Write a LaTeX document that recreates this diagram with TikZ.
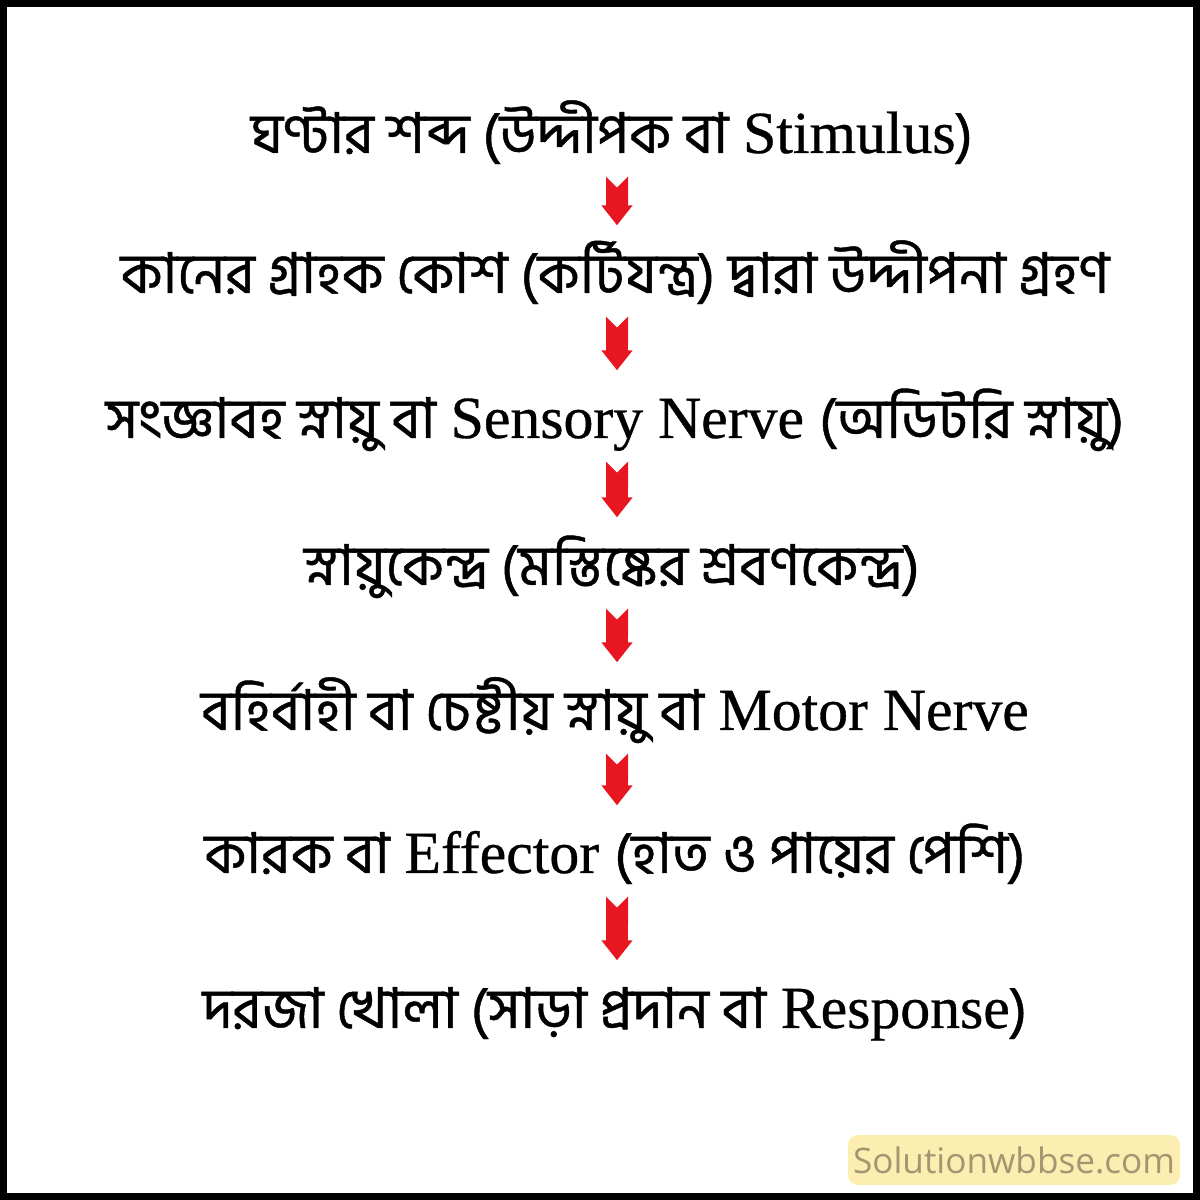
\documentclass[tikz,border=0pt]{standalone}
\usepackage{fontspec}
\setmainfont{Liberation Serif}[FakeBold=0.6]
\newfontfamily\bnfont[Script=Bengali,FakeBold=0.8]{Hind Siliguri}
\newfontfamily\wmfont{Open Sans}
\newcommand\bn{\bnfont\fontsize{16}{20}\selectfont}
\usetikzlibrary{arrows.meta}
\definecolor{arrowred}{RGB}{232,22,32}
\definecolor{wmfill}{RGB}{252,238,176}
\definecolor{wmtext}{RGB}{163,150,112}

\begin{document}
\begin{tikzpicture}[
  flowline/.style={font=\fontsize{17}{20}\selectfont, text height=0.42cm, text depth=0.14cm, inner sep=0pt},
  downarrow/.style={arrowred, line width=0.22cm, {Triangle Cap[reversed]}-{Triangle[width=0.3cm,length=0.2cm]}, shorten <=0.09cm, shorten >=0.25cm}
]
\useasboundingbox (0,0) rectangle (12,12);
% Frame
\draw[line width=0.14cm] (0,0) rectangle (12,12);

% Reflex steps
\node[flowline] (stimulus) at (6.12,10.61) {{\bn ঘণ্টার শব্দ (উদ্দীপক বা} Stimulus{\bn )}};
\node[flowline] (receptor) at (6.15,9.21) {\bn কানের গ্রাহক কোশ (কর্টিযন্ত্র) দ্বারা উদ্দীপনা গ্রহণ};
\node[flowline] (sensory) at (6.15,7.76) {{\bn সংজ্ঞাবহ স্নায়ু বা} Sensory Nerve {\bn (অডিটরি স্নায়ু)}};
\node[flowline] (centre) at (6.12,6.29) {\bn স্নায়ুকেন্দ্র (মস্তিষ্কের শ্রবণকেন্দ্র)};
\node[flowline] (motor) at (6.15,4.84) {{\bn বহির্বাহী বা চেষ্টীয় স্নায়ু বা} Motor Nerve};
\node[flowline] (effector) at (6.15,3.41) {{\bn কারক বা} Effector {\bn (হাত ও পায়ের পেশি)}};
\node[flowline] (response) at (6.15,1.86) {{\bn দরজা খোলা (সাড়া প্রদান বা} Response{\bn )}};

% Arrows between steps
\foreach \a/\b in {stimulus/receptor,receptor/sensory,sensory/centre,centre/motor,motor/effector,effector/response}
    \draw[downarrow] (\a.south -| 6.17,0) -- (\b.north -| 6.17,0);

% Watermark
\node[fill=wmfill, rounded corners=0.1cm, minimum width=3.32cm, minimum height=0.5cm, inner sep=0pt,
      text=wmtext, font=\wmfont\fontsize{10}{12}\selectfont] (mark) at (10.14,0.4) {Solutionwbbse.com};
\end{tikzpicture}
\end{document}
